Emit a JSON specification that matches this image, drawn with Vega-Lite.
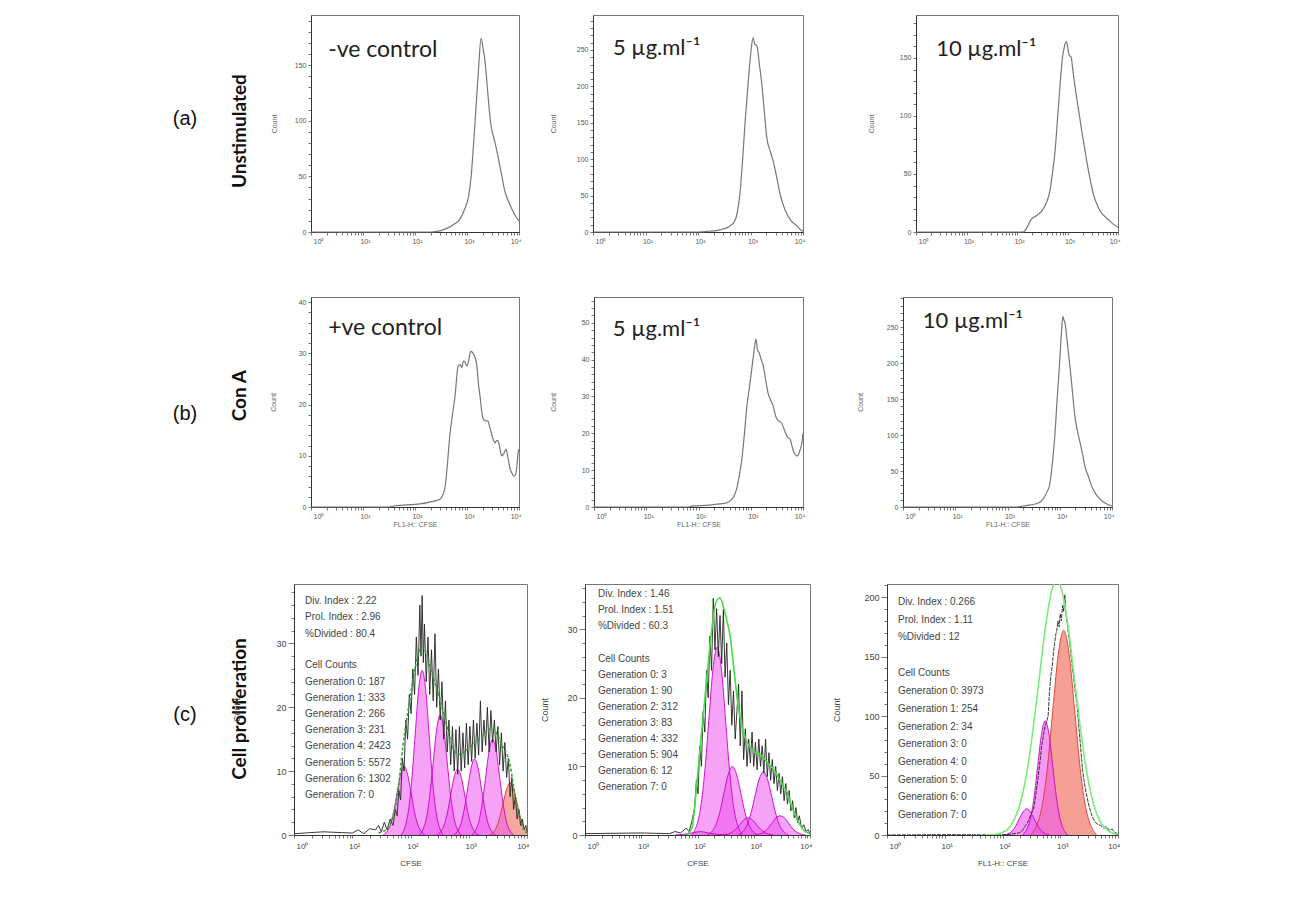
{
"$schema": "https://vega.github.io/schema/vega-lite/v6.json",
"background": "white",
"padding": {"left": 5, "top": 14, "right": 5, "bottom": 5},
"config": {
  "view": {"stroke": "#777", "strokeWidth": 1},
  "axis": {"domainColor": "#333", "tickColor": "#555", "labelColor": "#555", "titleColor": "#666", "labelFont": "Liberation Sans", "titleFont": "Liberation Sans", "titleFontWeight": "normal", "grid": false, "domainWidth": 1, "tickWidth": 0.8, "labelOverlap": false}
},
"datasets": {
  "a1": [{"x":0,"y":0},{"x":2.3,"y":0},{"x":2.48,"y":1},{"x":2.6,"y":3},{"x":2.75,"y":7},{"x":2.87,"y":12},{"x":2.95,"y":20},{"x":3.03,"y":32},{"x":3.08,"y":50},{"x":3.12,"y":75},{"x":3.17,"y":110},{"x":3.22,"y":145},{"x":3.27,"y":174},{"x":3.31,"y":165},{"x":3.35,"y":152},{"x":3.4,"y":125},{"x":3.45,"y":100},{"x":3.48,"y":91},{"x":3.53,"y":82},{"x":3.57,"y":74},{"x":3.62,"y":62},{"x":3.68,"y":48},{"x":3.72,"y":38},{"x":3.77,"y":31},{"x":3.83,"y":24},{"x":3.9,"y":17},{"x":3.95,"y":13},{"x":4,"y":10}],
  "a2": [{"x":0,"y":0},{"x":2.0,"y":0},{"x":2.2,"y":1},{"x":2.42,"y":3},{"x":2.6,"y":8},{"x":2.7,"y":15},{"x":2.75,"y":28},{"x":2.8,"y":53},{"x":2.85,"y":100},{"x":2.9,"y":154},{"x":2.95,"y":200},{"x":3.0,"y":242},{"x":3.05,"y":267},{"x":3.08,"y":258},{"x":3.12,"y":256},{"x":3.17,"y":230},{"x":3.22,"y":200},{"x":3.27,"y":160},{"x":3.31,"y":130},{"x":3.37,"y":112},{"x":3.43,"y":98},{"x":3.5,"y":75},{"x":3.56,"y":53},{"x":3.62,"y":38},{"x":3.69,"y":25},{"x":3.78,"y":15},{"x":3.89,"y":8},{"x":3.95,"y":3},{"x":4,"y":1}],
  "a3": [{"x":0,"y":0},{"x":2.12,"y":0},{"x":2.2,"y":4},{"x":2.26,"y":9.5},{"x":2.38,"y":14},{"x":2.49,"y":18},{"x":2.58,"y":25},{"x":2.65,"y":35},{"x":2.7,"y":50},{"x":2.75,"y":68},{"x":2.8,"y":96},{"x":2.85,"y":125},{"x":2.9,"y":150},{"x":2.94,"y":160},{"x":2.98,"y":164},{"x":3.02,"y":155},{"x":3.04,"y":152},{"x":3.07,"y":151},{"x":3.11,"y":138},{"x":3.15,"y":125},{"x":3.22,"y":105},{"x":3.29,"y":85},{"x":3.34,"y":72},{"x":3.39,"y":59},{"x":3.45,"y":45},{"x":3.51,"y":33},{"x":3.6,"y":22},{"x":3.68,"y":16},{"x":3.75,"y":13},{"x":3.8,"y":11},{"x":3.9,"y":7},{"x":4,"y":4}],
  "b1": [{"x":0,"y":0},{"x":1.5,"y":0},{"x":1.6,"y":0.2},{"x":2.1,"y":0.6},{"x":2.3,"y":1},{"x":2.48,"y":1.5},{"x":2.54,"y":2.5},{"x":2.58,"y":4},{"x":2.62,"y":8},{"x":2.67,"y":14},{"x":2.72,"y":18},{"x":2.77,"y":21.7},{"x":2.83,"y":27.5},{"x":2.87,"y":27.8},{"x":2.9,"y":27.2},{"x":2.93,"y":28.5},{"x":2.96,"y":28.3},{"x":3.0,"y":27.5},{"x":3.04,"y":29},{"x":3.07,"y":30.4},{"x":3.12,"y":30},{"x":3.16,"y":29},{"x":3.19,"y":27.5},{"x":3.22,"y":24},{"x":3.25,"y":21.7},{"x":3.28,"y":19},{"x":3.31,"y":17.2},{"x":3.36,"y":16.8},{"x":3.4,"y":16.8},{"x":3.44,"y":15.5},{"x":3.47,"y":14.4},{"x":3.51,"y":13},{"x":3.54,"y":12.5},{"x":3.57,"y":13},{"x":3.6,"y":12.9},{"x":3.64,"y":11},{"x":3.67,"y":10},{"x":3.71,"y":10.5},{"x":3.75,"y":11.3},{"x":3.79,"y":9.5},{"x":3.83,"y":7.4},{"x":3.87,"y":6.5},{"x":3.9,"y":6},{"x":3.94,"y":6.5},{"x":3.96,"y":8},{"x":3.98,"y":10.5},{"x":4,"y":11.3}],
  "b2": [{"x":0,"y":0},{"x":1.8,"y":0},{"x":1.9,"y":0.3},{"x":2.2,"y":0.5},{"x":2.35,"y":0.8},{"x":2.5,"y":1.0},{"x":2.6,"y":1.6},{"x":2.68,"y":3},{"x":2.73,"y":4.9},{"x":2.78,"y":8.5},{"x":2.83,"y":13},{"x":2.88,"y":20},{"x":2.92,"y":26.6},{"x":2.97,"y":32},{"x":3.02,"y":37.5},{"x":3.06,"y":42},{"x":3.1,"y":45.6},{"x":3.13,"y":42.5},{"x":3.16,"y":41.9},{"x":3.2,"y":40},{"x":3.24,"y":38.3},{"x":3.28,"y":35},{"x":3.33,"y":31},{"x":3.38,"y":29},{"x":3.43,"y":27.4},{"x":3.47,"y":25},{"x":3.5,"y":23.9},{"x":3.55,"y":23.2},{"x":3.59,"y":22.8},{"x":3.64,"y":21},{"x":3.69,"y":19.3},{"x":3.72,"y":18.7},{"x":3.75,"y":18.5},{"x":3.79,"y":16.5},{"x":3.83,"y":14.7},{"x":3.87,"y":13.9},{"x":3.89,"y":13.9},{"x":3.92,"y":14.5},{"x":3.95,"y":15.8},{"x":3.98,"y":17.5},{"x":4,"y":20}],
  "b3": [{"x":0,"y":0},{"x":2.18,"y":0},{"x":2.3,"y":1.4},{"x":2.45,"y":3},{"x":2.6,"y":6},{"x":2.68,"y":11},{"x":2.75,"y":20},{"x":2.81,"y":32},{"x":2.86,"y":62},{"x":2.91,"y":103},{"x":2.95,"y":150},{"x":2.99,"y":192},{"x":3.03,"y":240},{"x":3.06,"y":265},{"x":3.08,"y":260},{"x":3.1,"y":256},{"x":3.15,"y":225},{"x":3.2,"y":192},{"x":3.25,"y":155},{"x":3.29,"y":126},{"x":3.34,"y":105},{"x":3.39,"y":89},{"x":3.44,"y":72},{"x":3.48,"y":57},{"x":3.55,"y":42},{"x":3.61,"y":29},{"x":3.69,"y":18},{"x":3.77,"y":11},{"x":3.88,"y":5},{"x":4,"y":1.4}],
  "c1": [
    {"s":"hist","x":0,"y":0.2},{"s":"hist","x":0.5,"y":0.5},{"s":"hist","x":1.0,"y":0.3},{"s":"hist","x":1.1,"y":0.8},{"s":"hist","x":1.2,"y":0.2},{"s":"hist","x":1.3,"y":1.0},{"s":"hist","x":1.4,"y":0.8},{"s":"hist","x":1.45,"y":1.5},{"s":"hist","x":1.5,"y":0.5},{"s":"hist","x":1.55,"y":2.0},{"s":"hist","x":1.6,"y":0.8},{"s":"hist","x":1.65,"y":2.5},{"s":"hist","x":1.7,"y":1.5},{"s":"hist","x":1.74,"y":4.0},{"s":"hist","x":1.77,"y":3.0},{"s":"hist","x":1.8,"y":7.0},{"s":"hist","x":1.83,"y":5.5},{"s":"hist","x":1.86,"y":12},{"s":"hist","x":1.89,"y":10},{"s":"hist","x":1.92,"y":18},{"s":"hist","x":1.95,"y":15},{"s":"hist","x":1.98,"y":22},{"s":"hist","x":2.01,"y":19},{"s":"hist","x":2.04,"y":26},{"s":"hist","x":2.07,"y":22},{"s":"hist","x":2.1,"y":31},{"s":"hist","x":2.13,"y":25},{"s":"hist","x":2.16,"y":36},{"s":"hist","x":2.18,"y":28},{"s":"hist","x":2.2,"y":37.5},{"s":"hist","x":2.22,"y":27},{"s":"hist","x":2.24,"y":33},{"s":"hist","x":2.27,"y":24},{"s":"hist","x":2.3,"y":31},{"s":"hist","x":2.33,"y":22},{"s":"hist","x":2.36,"y":29},{"s":"hist","x":2.39,"y":21},{"s":"hist","x":2.42,"y":31.5},{"s":"hist","x":2.45,"y":20},{"s":"hist","x":2.48,"y":26},{"s":"hist","x":2.51,"y":18},{"s":"hist","x":2.54,"y":24},{"s":"hist","x":2.57,"y":15},{"s":"hist","x":2.6,"y":21},{"s":"hist","x":2.63,"y":13},{"s":"hist","x":2.66,"y":18},{"s":"hist","x":2.69,"y":11},{"s":"hist","x":2.72,"y":17},{"s":"hist","x":2.75,"y":10},{"s":"hist","x":2.78,"y":16.5},{"s":"hist","x":2.81,"y":9.5},{"s":"hist","x":2.84,"y":17},{"s":"hist","x":2.87,"y":10},{"s":"hist","x":2.9,"y":16},{"s":"hist","x":2.93,"y":10.5},{"s":"hist","x":2.96,"y":17.5},{"s":"hist","x":2.99,"y":11},{"s":"hist","x":3.02,"y":17},{"s":"hist","x":3.05,"y":11.5},{"s":"hist","x":3.08,"y":18},{"s":"hist","x":3.11,"y":12},{"s":"hist","x":3.14,"y":17.5},{"s":"hist","x":3.17,"y":12.5},{"s":"hist","x":3.2,"y":21},{"s":"hist","x":3.23,"y":13},{"s":"hist","x":3.26,"y":18},{"s":"hist","x":3.29,"y":14},{"s":"hist","x":3.32,"y":20},{"s":"hist","x":3.35,"y":13},{"s":"hist","x":3.38,"y":19.5},{"s":"hist","x":3.41,"y":14.5},{"s":"hist","x":3.44,"y":18},{"s":"hist","x":3.47,"y":13},{"s":"hist","x":3.5,"y":17},{"s":"hist","x":3.53,"y":11},{"s":"hist","x":3.56,"y":16},{"s":"hist","x":3.59,"y":10},{"s":"hist","x":3.62,"y":14.5},{"s":"hist","x":3.65,"y":9},{"s":"hist","x":3.68,"y":12},{"s":"hist","x":3.71,"y":6},{"s":"hist","x":3.74,"y":9},{"s":"hist","x":3.77,"y":4},{"s":"hist","x":3.8,"y":6},{"s":"hist","x":3.83,"y":2.5},{"s":"hist","x":3.86,"y":4},{"s":"hist","x":3.89,"y":1.5},{"s":"hist","x":3.92,"y":2.5},{"s":"hist","x":3.95,"y":0.8},{"s":"hist","x":3.98,"y":1.5},{"s":"hist","x":4,"y":0.5},
    {"s":"fit","x":1.45,"y":0.3},{"s":"fit","x":1.6,"y":1},{"s":"fit","x":1.7,"y":3},{"s":"fit","x":1.78,"y":6.5},{"s":"fit","x":1.87,"y":13.9},{"s":"fit","x":1.95,"y":19},{"s":"fit","x":2.02,"y":23},{"s":"fit","x":2.1,"y":27},{"s":"fit","x":2.17,"y":29.2},{"s":"fit","x":2.21,"y":29.4},{"s":"fit","x":2.27,"y":28.5},{"s":"fit","x":2.35,"y":26},{"s":"fit","x":2.43,"y":23.5},{"s":"fit","x":2.51,"y":21},{"s":"fit","x":2.6,"y":18},{"s":"fit","x":2.7,"y":14.5},{"s":"fit","x":2.78,"y":12.8},{"s":"fit","x":2.85,"y":12.6},{"s":"fit","x":2.95,"y":13.2},{"s":"fit","x":3.08,"y":14.3},{"s":"fit","x":3.2,"y":15.2},{"s":"fit","x":3.3,"y":16.2},{"s":"fit","x":3.42,"y":16.7},{"s":"fit","x":3.5,"y":15.5},{"s":"fit","x":3.6,"y":13.5},{"s":"fit","x":3.67,"y":12.3},{"s":"fit","x":3.72,"y":10.5},{"s":"fit","x":3.76,"y":8.1},{"s":"fit","x":3.82,"y":5},{"s":"fit","x":3.88,"y":2.5},{"s":"fit","x":3.95,"y":0.8},{"s":"fit","x":4,"y":0.3},
    {"s":"g0","x":3.35,"y":0},{"s":"g0","x":3.47,"y":1.1},{"s":"g0","x":3.53,"y":2.7},{"s":"g0","x":3.59,"y":5.0},{"s":"g0","x":3.65,"y":7.2},{"s":"g0","x":3.71,"y":8.2},{"s":"g0","x":3.77,"y":7.2},{"s":"g0","x":3.83,"y":5.0},{"s":"g0","x":3.89,"y":2.7},{"s":"g0","x":3.95,"y":1.1},{"s":"g0","x":4,"y":0.4},
    {"s":"g1","x":3.05,"y":0},{"s":"g1","x":3.17,"y":2.0},{"s":"g1","x":3.23,"y":4.9},{"s":"g1","x":3.29,"y":9.1},{"s":"g1","x":3.35,"y":13.2},{"s":"g1","x":3.41,"y":15},{"s":"g1","x":3.47,"y":13.2},{"s":"g1","x":3.53,"y":9.1},{"s":"g1","x":3.59,"y":4.9},{"s":"g1","x":3.65,"y":2.0},{"s":"g1","x":3.77,"y":0},
    {"s":"g2","x":2.74,"y":0},{"s":"g2","x":2.86,"y":1.6},{"s":"g2","x":2.92,"y":3.9},{"s":"g2","x":2.98,"y":7.2},{"s":"g2","x":3.04,"y":10.5},{"s":"g2","x":3.1,"y":11.9},{"s":"g2","x":3.16,"y":10.5},{"s":"g2","x":3.22,"y":7.2},{"s":"g2","x":3.28,"y":3.9},{"s":"g2","x":3.34,"y":1.6},{"s":"g2","x":3.46,"y":0},
    {"s":"g3","x":2.45,"y":0},{"s":"g3","x":2.57,"y":1.4},{"s":"g3","x":2.63,"y":3.3},{"s":"g3","x":2.69,"y":6.3},{"s":"g3","x":2.75,"y":9.1},{"s":"g3","x":2.81,"y":10.3},{"s":"g3","x":2.87,"y":9.1},{"s":"g3","x":2.93,"y":6.3},{"s":"g3","x":2.99,"y":3.3},{"s":"g3","x":3.05,"y":1.4},{"s":"g3","x":3.17,"y":0},
    {"s":"g4","x":2.15,"y":0},{"s":"g4","x":2.27,"y":2.5},{"s":"g4","x":2.33,"y":6.1},{"s":"g4","x":2.39,"y":11.4},{"s":"g4","x":2.45,"y":16.6},{"s":"g4","x":2.51,"y":18.8},{"s":"g4","x":2.57,"y":16.6},{"s":"g4","x":2.63,"y":11.4},{"s":"g4","x":2.69,"y":6.1},{"s":"g4","x":2.75,"y":2.5},{"s":"g4","x":2.87,"y":0},
    {"s":"g5","x":1.84,"y":0},{"s":"g5","x":1.96,"y":3.5},{"s":"g5","x":2.02,"y":8.4},{"s":"g5","x":2.08,"y":15.7},{"s":"g5","x":2.14,"y":22.8},{"s":"g5","x":2.2,"y":25.8},{"s":"g5","x":2.26,"y":22.8},{"s":"g5","x":2.32,"y":15.7},{"s":"g5","x":2.38,"y":8.4},{"s":"g5","x":2.44,"y":3.5},{"s":"g5","x":2.56,"y":0},
    {"s":"g6","x":1.53,"y":0},{"s":"g6","x":1.65,"y":1.5},{"s":"g6","x":1.71,"y":3.5},{"s":"g6","x":1.77,"y":6.6},{"s":"g6","x":1.83,"y":9.5},{"s":"g6","x":1.89,"y":10.8},{"s":"g6","x":1.95,"y":9.5},{"s":"g6","x":2.01,"y":6.6},{"s":"g6","x":2.07,"y":3.5},{"s":"g6","x":2.13,"y":1.5},{"s":"g6","x":2.25,"y":0}
  ],
  "c2": [
    {"s":"hist","x":0,"y":0.2},{"s":"hist","x":1.0,"y":0.3},{"s":"hist","x":1.5,"y":0.2},{"s":"hist","x":1.6,"y":0.5},{"s":"hist","x":1.7,"y":0.3},{"s":"hist","x":1.8,"y":1},{"s":"hist","x":1.85,"y":0.5},{"s":"hist","x":1.9,"y":2},{"s":"hist","x":1.95,"y":4},{"s":"hist","x":1.98,"y":8},{"s":"hist","x":2.01,"y":6},{"s":"hist","x":2.04,"y":13},{"s":"hist","x":2.07,"y":10},{"s":"hist","x":2.1,"y":18},{"s":"hist","x":2.13,"y":15},{"s":"hist","x":2.16,"y":24},{"s":"hist","x":2.19,"y":20},{"s":"hist","x":2.22,"y":29},{"s":"hist","x":2.25,"y":24},{"s":"hist","x":2.28,"y":34.5},{"s":"hist","x":2.31,"y":27},{"s":"hist","x":2.34,"y":33},{"s":"hist","x":2.37,"y":26},{"s":"hist","x":2.4,"y":32},{"s":"hist","x":2.43,"y":25},{"s":"hist","x":2.46,"y":33},{"s":"hist","x":2.49,"y":23},{"s":"hist","x":2.52,"y":28},{"s":"hist","x":2.55,"y":19},{"s":"hist","x":2.58,"y":24},{"s":"hist","x":2.61,"y":16},{"s":"hist","x":2.64,"y":21},{"s":"hist","x":2.67,"y":14},{"s":"hist","x":2.7,"y":18},{"s":"hist","x":2.73,"y":22},{"s":"hist","x":2.76,"y":13},{"s":"hist","x":2.79,"y":21},{"s":"hist","x":2.82,"y":11},{"s":"hist","x":2.85,"y":15.5},{"s":"hist","x":2.88,"y":10},{"s":"hist","x":2.91,"y":14},{"s":"hist","x":2.94,"y":10.5},{"s":"hist","x":2.97,"y":15},{"s":"hist","x":3.0,"y":10},{"s":"hist","x":3.03,"y":13.5},{"s":"hist","x":3.06,"y":9.5},{"s":"hist","x":3.09,"y":14},{"s":"hist","x":3.12,"y":10},{"s":"hist","x":3.15,"y":13},{"s":"hist","x":3.18,"y":9},{"s":"hist","x":3.21,"y":14},{"s":"hist","x":3.24,"y":8.5},{"s":"hist","x":3.27,"y":12},{"s":"hist","x":3.3,"y":8},{"s":"hist","x":3.33,"y":11},{"s":"hist","x":3.36,"y":7.5},{"s":"hist","x":3.39,"y":10},{"s":"hist","x":3.42,"y":6.5},{"s":"hist","x":3.45,"y":9},{"s":"hist","x":3.48,"y":6},{"s":"hist","x":3.51,"y":8.5},{"s":"hist","x":3.54,"y":5},{"s":"hist","x":3.57,"y":7.5},{"s":"hist","x":3.6,"y":4.5},{"s":"hist","x":3.63,"y":6.5},{"s":"hist","x":3.66,"y":3.5},{"s":"hist","x":3.69,"y":5},{"s":"hist","x":3.72,"y":2.5},{"s":"hist","x":3.75,"y":4},{"s":"hist","x":3.78,"y":1.8},{"s":"hist","x":3.81,"y":2.8},{"s":"hist","x":3.85,"y":1},{"s":"hist","x":3.89,"y":1.5},{"s":"hist","x":3.93,"y":0.5},{"s":"hist","x":3.97,"y":0.8},{"s":"hist","x":4,"y":0.2},
    {"s":"fit","x":1.8,"y":0},{"s":"fit","x":1.9,"y":1},{"s":"fit","x":1.99,"y":7.7},{"s":"fit","x":2.05,"y":13},{"s":"fit","x":2.12,"y":19},{"s":"fit","x":2.19,"y":25},{"s":"fit","x":2.26,"y":30.5},{"s":"fit","x":2.33,"y":34},{"s":"fit","x":2.4,"y":34.6},{"s":"fit","x":2.47,"y":33},{"s":"fit","x":2.53,"y":31},{"s":"fit","x":2.58,"y":29},{"s":"fit","x":2.65,"y":24},{"s":"fit","x":2.72,"y":19},{"s":"fit","x":2.8,"y":15.5},{"s":"fit","x":2.88,"y":13.6},{"s":"fit","x":2.95,"y":12.6},{"s":"fit","x":3.03,"y":12},{"s":"fit","x":3.11,"y":11.8},{"s":"fit","x":3.2,"y":11},{"s":"fit","x":3.27,"y":10.3},{"s":"fit","x":3.35,"y":9.6},{"s":"fit","x":3.45,"y":8.2},{"s":"fit","x":3.52,"y":7.2},{"s":"fit","x":3.59,"y":6.3},{"s":"fit","x":3.66,"y":4.5},{"s":"fit","x":3.74,"y":2.8},{"s":"fit","x":3.82,"y":1.5},{"s":"fit","x":3.9,"y":0.6},{"s":"fit","x":4,"y":0.2},
    {"s":"g1","x":3.02,"y":0},{"s":"g1","x":3.17,"y":0.38},{"s":"g1","x":3.245,"y":0.9},{"s":"g1","x":3.32,"y":1.7},{"s":"g1","x":3.395,"y":2.5},{"s":"g1","x":3.47,"y":2.8},{"s":"g1","x":3.545,"y":2.5},{"s":"g1","x":3.62,"y":1.7},{"s":"g1","x":3.695,"y":0.9},{"s":"g1","x":3.77,"y":0.38},{"s":"g1","x":3.92,"y":0},
    {"s":"g2","x":2.72,"y":0},{"s":"g2","x":2.87,"y":1.24},{"s":"g2","x":2.945,"y":3.0},{"s":"g2","x":3.02,"y":5.6},{"s":"g2","x":3.095,"y":8.1},{"s":"g2","x":3.17,"y":9.2},{"s":"g2","x":3.245,"y":8.1},{"s":"g2","x":3.32,"y":5.6},{"s":"g2","x":3.395,"y":3.0},{"s":"g2","x":3.47,"y":1.24},{"s":"g2","x":3.62,"y":0},
    {"s":"g3","x":2.45,"y":0},{"s":"g3","x":2.6,"y":0.34},{"s":"g3","x":2.675,"y":0.8},{"s":"g3","x":2.75,"y":1.5},{"s":"g3","x":2.825,"y":2.2},{"s":"g3","x":2.9,"y":2.5},{"s":"g3","x":2.975,"y":2.2},{"s":"g3","x":3.05,"y":1.5},{"s":"g3","x":3.125,"y":0.8},{"s":"g3","x":3.2,"y":0.34},{"s":"g3","x":3.35,"y":0},
    {"s":"g4","x":2.17,"y":0},{"s":"g4","x":2.32,"y":1.35},{"s":"g4","x":2.395,"y":3.25},{"s":"g4","x":2.47,"y":6.1},{"s":"g4","x":2.545,"y":8.8},{"s":"g4","x":2.62,"y":10},{"s":"g4","x":2.695,"y":8.8},{"s":"g4","x":2.77,"y":6.1},{"s":"g4","x":2.845,"y":3.25},{"s":"g4","x":2.92,"y":1.35},{"s":"g4","x":3.07,"y":0},
    {"s":"g5","x":1.9,"y":0},{"s":"g5","x":2.05,"y":3.7},{"s":"g5","x":2.125,"y":8.9},{"s":"g5","x":2.2,"y":16.6},{"s":"g5","x":2.275,"y":24.2},{"s":"g5","x":2.35,"y":27.4},{"s":"g5","x":2.425,"y":24.2},{"s":"g5","x":2.5,"y":16.6},{"s":"g5","x":2.575,"y":8.9},{"s":"g5","x":2.65,"y":3.7},{"s":"g5","x":2.8,"y":0},
    {"s":"g6","x":1.6,"y":0},{"s":"g6","x":1.75,"y":0.1},{"s":"g6","x":1.9,"y":0.3},{"s":"g6","x":2.05,"y":0.5},{"s":"g6","x":2.2,"y":0.3},{"s":"g6","x":2.35,"y":0.1},{"s":"g6","x":2.5,"y":0}
  ],
  "c3": [
    {"s":"hist","x":0,"y":0},{"s":"hist","x":1.0,"y":0.3},{"s":"hist","x":1.5,"y":0.2},{"s":"hist","x":1.9,"y":0},{"s":"hist","x":2.1,"y":0.5},{"s":"hist","x":2.2,"y":1},{"s":"hist","x":2.3,"y":2},{"s":"hist","x":2.35,"y":4},{"s":"hist","x":2.4,"y":8},{"s":"hist","x":2.45,"y":12},{"s":"hist","x":2.5,"y":18},{"s":"hist","x":2.54,"y":22},{"s":"hist","x":2.58,"y":35},{"s":"hist","x":2.62,"y":50},{"s":"hist","x":2.65,"y":62},{"s":"hist","x":2.68,"y":75},{"s":"hist","x":2.71,"y":84},{"s":"hist","x":2.74,"y":92},{"s":"hist","x":2.77,"y":96},{"s":"hist","x":2.79,"y":100},{"s":"hist","x":2.81,"y":118},{"s":"hist","x":2.84,"y":135},{"s":"hist","x":2.86,"y":141},{"s":"hist","x":2.88,"y":152},{"s":"hist","x":2.9,"y":160},{"s":"hist","x":2.92,"y":168},{"s":"hist","x":2.94,"y":172},{"s":"hist","x":2.96,"y":180},{"s":"hist","x":2.98,"y":175},{"s":"hist","x":3.0,"y":186},{"s":"hist","x":3.02,"y":180},{"s":"hist","x":3.04,"y":193},{"s":"hist","x":3.06,"y":188},{"s":"hist","x":3.08,"y":202},{"s":"hist","x":3.1,"y":185},{"s":"hist","x":3.12,"y":178},{"s":"hist","x":3.14,"y":170},{"s":"hist","x":3.17,"y":159},{"s":"hist","x":3.2,"y":145},{"s":"hist","x":3.23,"y":133},{"s":"hist","x":3.26,"y":120},{"s":"hist","x":3.29,"y":110},{"s":"hist","x":3.32,"y":92},{"s":"hist","x":3.35,"y":75},{"s":"hist","x":3.38,"y":58},{"s":"hist","x":3.41,"y":46},{"s":"hist","x":3.45,"y":35},{"s":"hist","x":3.5,"y":24},{"s":"hist","x":3.55,"y":16},{"s":"hist","x":3.6,"y":11},{"s":"hist","x":3.65,"y":9},{"s":"hist","x":3.7,"y":8},{"s":"hist","x":3.75,"y":6},{"s":"hist","x":3.8,"y":7},{"s":"hist","x":3.85,"y":4},{"s":"hist","x":3.9,"y":5},{"s":"hist","x":3.95,"y":2},{"s":"hist","x":4,"y":1},
    {"s":"fit","x":1.7,"y":0},{"s":"fit","x":1.85,"y":0.4},{"s":"fit","x":2.0,"y":2.1},{"s":"fit","x":2.15,"y":8.3},{"s":"fit","x":2.3,"y":25.4},{"s":"fit","x":2.45,"y":61},{"s":"fit","x":2.6,"y":117},{"s":"fit","x":2.75,"y":177},{"s":"fit","x":2.85,"y":205},{"s":"fit","x":2.94,"y":214},{"s":"fit","x":3.03,"y":205},{"s":"fit","x":3.13,"y":177},{"s":"fit","x":3.28,"y":117},{"s":"fit","x":3.43,"y":61},{"s":"fit","x":3.58,"y":25.4},{"s":"fit","x":3.73,"y":8.3},{"s":"fit","x":3.88,"y":2.1},{"s":"fit","x":4,"y":0.4},
    {"s":"g0","x":2.49,"y":0},{"s":"g0","x":2.68,"y":23.2},{"s":"g0","x":2.775,"y":55.9},{"s":"g0","x":2.87,"y":104.4},{"s":"g0","x":2.965,"y":151.7},{"s":"g0","x":3.06,"y":172},{"s":"g0","x":3.155,"y":151.7},{"s":"g0","x":3.25,"y":104.4},{"s":"g0","x":3.345,"y":55.9},{"s":"g0","x":3.44,"y":23.2},{"s":"g0","x":3.63,"y":0},
    {"s":"g1","x":2.35,"y":0},{"s":"g1","x":2.48,"y":13},{"s":"g1","x":2.545,"y":31.2},{"s":"g1","x":2.61,"y":58.3},{"s":"g1","x":2.675,"y":84.7},{"s":"g1","x":2.74,"y":96},{"s":"g1","x":2.805,"y":84.7},{"s":"g1","x":2.87,"y":58.3},{"s":"g1","x":2.935,"y":31.2},{"s":"g1","x":3.0,"y":13},{"s":"g1","x":3.13,"y":0},
    {"s":"g2","x":2.03,"y":0},{"s":"g2","x":2.16,"y":3},{"s":"g2","x":2.225,"y":7.2},{"s":"g2","x":2.29,"y":13.4},{"s":"g2","x":2.355,"y":19.4},{"s":"g2","x":2.42,"y":22},{"s":"g2","x":2.485,"y":19.4},{"s":"g2","x":2.55,"y":13.4},{"s":"g2","x":2.615,"y":7.2},{"s":"g2","x":2.68,"y":3},{"s":"g2","x":2.81,"y":0}
  ]
},
"spacing": 48,
"vconcat": [
 {"bounds": "flush", "spacing": 0, "hconcat": [
  {"width": 306, "height": 217, "view": {"stroke": null}, "data": {"values": [{}]},
   "layer": [
    {"mark": {"type": "text", "text": "(a)", "font": "Liberation Sans", "fontSize": 20, "color": "#111"},
     "encoding": {"x": {"datum": "letter", "type": "nominal", "scale": {"type": "point", "domain": ["letter", "title"], "range": [180, 235], "padding": 0}, "axis": null},
                  "y": {"datum": 0.52, "type": "quantitative", "scale": {"domain": [0, 1]}, "axis": null}}},
    {"mark": {"type": "text", "text": "Unstimulated", "font": "Lato", "fontWeight": "bold", "fontSize": 19, "angle": 270, "color": "#111"},
     "encoding": {"x": {"datum": "title", "type": "nominal", "axis": null},
                  "y": {"datum": 0.465, "type": "quantitative", "axis": null}}}
   ]},
  {"width": 208, "height": 217, "data": {"name": "a1"}, "resolve": {"axis": {"x": "independent", "y": "independent"}},
   "layer": [
    {"mark": {"type": "line", "color": "#777", "strokeWidth": 1.2, "interpolate": "monotone"},
     "encoding": {
       "x": {"field": "x", "type": "quantitative", "scale": {"domain": [0, 4], "nice": false}, "axis": {"orient": "bottom", "title": null, "labelOverlap": false, "values": [0,0.301,0.477,0.602,0.699,0.778,0.845,0.903,0.954,1,1.301,1.477,1.602,1.699,1.778,1.845,1.903,1.954,2,2.301,2.477,2.602,2.699,2.778,2.845,2.903,2.954,3,3.301,3.477,3.602,3.699,3.778,3.845,3.903,3.954,4], "labelExpr": "datum.value % 1 === 0 ? ['10⁰','10¹','10²','10³','10⁴'][datum.value] : ''", "tickSize": 3, "labelPadding": 2, "labelFontSize": 7, "labelOffset": 2}},
       "y": {"field": "y", "type": "quantitative", "scale": {"domain": [0, 195], "nice": false}, "axis": {"orient": "left", "title": "Count", "labelOverlap": false, "values": [0,10,20,30,40,50,60,70,80,90,100,110,120,130,140,150,160,170,180,190], "labelExpr": "datum.value % 50 === 0 ? datum.label : ''", "tickSize": 3, "labelPadding": 2, "labelFontSize": 7, "titleFontSize": 7, "titlePadding": 17, "minExtent": 17, "maxExtent": 17}}
     }},
    {"data": {"values": [{}]}, "mark": {"type": "text", "text": "-ve control", "font": "Lato", "fontSize": 23, "align": "left", "baseline": "middle", "color": "#222"},
     "encoding": {"x": {"datum": 0.33, "type": "quantitative", "axis": null}, "y": {"datum": 163.5, "type": "quantitative", "axis": null}}}
   ]},
  {"width": 74, "height": 20, "view": {"stroke": null}, "data": {"values": [{}]}, "mark": {"type": "text", "text": ""}, "encoding": {}},
  {"width": 210, "height": 217, "data": {"name": "a2"}, "resolve": {"axis": {"x": "independent", "y": "independent"}},
   "layer": [
    {"mark": {"type": "line", "color": "#777", "strokeWidth": 1.2, "interpolate": "monotone"},
     "encoding": {
       "x": {"field": "x", "type": "quantitative", "scale": {"domain": [0, 4], "nice": false}, "axis": {"orient": "bottom", "title": null, "labelOverlap": false, "values": [0,0.301,0.477,0.602,0.699,0.778,0.845,0.903,0.954,1,1.301,1.477,1.602,1.699,1.778,1.845,1.903,1.954,2,2.301,2.477,2.602,2.699,2.778,2.845,2.903,2.954,3,3.301,3.477,3.602,3.699,3.778,3.845,3.903,3.954,4], "labelExpr": "datum.value % 1 === 0 ? ['10⁰','10¹','10²','10³','10⁴'][datum.value] : ''", "tickSize": 3, "labelPadding": 2, "labelFontSize": 7, "labelOffset": 2}},
       "y": {"field": "y", "type": "quantitative", "scale": {"domain": [0, 298], "nice": false}, "axis": {"orient": "left", "title": "Count", "labelOverlap": false, "values": [0,10,20,30,40,50,60,70,80,90,100,110,120,130,140,150,160,170,180,190,200,210,220,230,240,250,260,270,280,290], "labelExpr": "datum.value % 50 === 0 ? datum.label : ''", "tickSize": 3, "labelPadding": 2, "labelFontSize": 7, "titleFontSize": 7, "titlePadding": 20, "minExtent": 17, "maxExtent": 17}}
     }},
    {"data": {"values": [{}]}, "mark": {"type": "text", "text": "5 µg.ml⁻¹", "font": "Lato", "fontSize": 22, "align": "left", "baseline": "middle", "color": "#222"},
     "encoding": {"x": {"datum": 0.38, "type": "quantitative", "axis": null}, "y": {"datum": 253, "type": "quantitative", "axis": null}}}
   ]},
  {"width": 113, "height": 20, "view": {"stroke": null}, "data": {"values": [{}]}, "mark": {"type": "text", "text": ""}, "encoding": {}},
  {"width": 202, "height": 217, "data": {"name": "a3"}, "resolve": {"axis": {"x": "independent", "y": "independent"}},
   "layer": [
    {"mark": {"type": "line", "color": "#777", "strokeWidth": 1.2, "interpolate": "monotone"},
     "encoding": {
       "x": {"field": "x", "type": "quantitative", "scale": {"domain": [0, 4], "nice": false}, "axis": {"orient": "bottom", "title": null, "labelOverlap": false, "values": [0,0.301,0.477,0.602,0.699,0.778,0.845,0.903,0.954,1,1.301,1.477,1.602,1.699,1.778,1.845,1.903,1.954,2,2.301,2.477,2.602,2.699,2.778,2.845,2.903,2.954,3,3.301,3.477,3.602,3.699,3.778,3.845,3.903,3.954,4], "labelExpr": "datum.value % 1 === 0 ? ['10⁰','10¹','10²','10³','10⁴'][datum.value] : ''", "tickSize": 3, "labelPadding": 2, "labelFontSize": 7, "labelOffset": 2}},
       "y": {"field": "y", "type": "quantitative", "scale": {"domain": [0, 187], "nice": false}, "axis": {"orient": "left", "title": "Count", "labelOverlap": false, "values": [0,10,20,30,40,50,60,70,80,90,100,110,120,130,140,150,160,170,180], "labelExpr": "datum.value % 50 === 0 ? datum.label : ''", "tickSize": 3, "labelPadding": 2, "labelFontSize": 7, "titleFontSize": 7, "titlePadding": 25, "minExtent": 17, "maxExtent": 17}}
     }},
    {"data": {"values": [{}]}, "mark": {"type": "text", "text": "10 µg.ml⁻¹", "font": "Lato", "fontSize": 22, "align": "left", "baseline": "middle", "color": "#222"},
     "encoding": {"x": {"datum": 0.4, "type": "quantitative", "axis": null}, "y": {"datum": 158, "type": "quantitative", "axis": null}}}
   ]}
 ]},
 {"spacing": 52, "vconcat": [
 {"bounds": "flush", "spacing": 0, "hconcat": [
  {"width": 306, "height": 210, "view": {"stroke": null}, "data": {"values": [{}]},
   "layer": [
    {"mark": {"type": "text", "text": "(b)", "font": "Liberation Sans", "fontSize": 20, "color": "#111"},
     "encoding": {"x": {"datum": "letter", "type": "nominal", "scale": {"type": "point", "domain": ["letter", "title"], "range": [180, 235], "padding": 0}, "axis": null},
                  "y": {"datum": 0.443, "type": "quantitative", "scale": {"domain": [0, 1]}, "axis": null}}},
    {"mark": {"type": "text", "text": "Con A", "font": "Lato", "fontWeight": "bold", "fontSize": 19, "angle": 270, "color": "#111"},
     "encoding": {"x": {"datum": "title", "type": "nominal", "axis": null},
                  "y": {"datum": 0.53, "type": "quantitative", "axis": null}}}
   ]},
  {"width": 208, "height": 210, "data": {"name": "b1"}, "resolve": {"axis": {"x": "independent", "y": "independent"}},
   "layer": [
    {"mark": {"type": "line", "color": "#777", "strokeWidth": 1.2, "interpolate": "monotone"},
     "encoding": {
       "x": {"field": "x", "type": "quantitative", "scale": {"domain": [0, 4], "nice": false}, "axis": {"orient": "bottom", "title": "FL1-H:: CFSE", "titleFontSize": 7, "titlePadding": 1, "labelOverlap": false, "values": [0,0.301,0.477,0.602,0.699,0.778,0.845,0.903,0.954,1,1.301,1.477,1.602,1.699,1.778,1.845,1.903,1.954,2,2.301,2.477,2.602,2.699,2.778,2.845,2.903,2.954,3,3.301,3.477,3.602,3.699,3.778,3.845,3.903,3.954,4], "labelExpr": "datum.value % 1 === 0 ? ['10⁰','10¹','10²','10³','10⁴'][datum.value] : ''", "tickSize": 3, "labelPadding": 2, "labelFontSize": 7, "labelOffset": 2}},
       "y": {"field": "y", "type": "quantitative", "scale": {"domain": [0, 41], "nice": false}, "axis": {"orient": "left", "title": "Count", "labelOverlap": false, "values": [0,2,4,6,8,10,12,14,16,18,20,22,24,26,28,30,32,34,36,38,40], "labelExpr": "datum.value % 10 === 0 ? datum.label : ''", "tickSize": 3, "labelPadding": 2, "labelFontSize": 7, "titleFontSize": 7, "titlePadding": 18, "minExtent": 17, "maxExtent": 17}}
     }},
    {"data": {"values": [{}]}, "mark": {"type": "text", "text": "+ve control", "font": "Lato", "fontSize": 23, "align": "left", "baseline": "middle", "color": "#222"},
     "encoding": {"x": {"datum": 0.33, "type": "quantitative", "axis": null}, "y": {"datum": 34.9, "type": "quantitative", "axis": null}}}
   ]},
  {"width": 75, "height": 20, "view": {"stroke": null}, "data": {"values": [{}]}, "mark": {"type": "text", "text": ""}, "encoding": {}},
  {"width": 209, "height": 210, "data": {"name": "b2"}, "resolve": {"axis": {"x": "independent", "y": "independent"}},
   "layer": [
    {"mark": {"type": "line", "color": "#777", "strokeWidth": 1.2, "interpolate": "monotone"},
     "encoding": {
       "x": {"field": "x", "type": "quantitative", "scale": {"domain": [0, 4], "nice": false}, "axis": {"orient": "bottom", "title": "FL1-H:: CFSE", "titleFontSize": 7, "titlePadding": 1, "labelOverlap": false, "values": [0,0.301,0.477,0.602,0.699,0.778,0.845,0.903,0.954,1,1.301,1.477,1.602,1.699,1.778,1.845,1.903,1.954,2,2.301,2.477,2.602,2.699,2.778,2.845,2.903,2.954,3,3.301,3.477,3.602,3.699,3.778,3.845,3.903,3.954,4], "labelExpr": "datum.value % 1 === 0 ? ['10⁰','10¹','10²','10³','10⁴'][datum.value] : ''", "tickSize": 3, "labelPadding": 2, "labelFontSize": 7, "labelOffset": 2}},
       "y": {"field": "y", "type": "quantitative", "scale": {"domain": [0, 57], "nice": false}, "axis": {"orient": "left", "title": "Count", "labelOverlap": false, "values": [0,2,4,6,8,10,12,14,16,18,20,22,24,26,28,30,32,34,36,38,40,42,44,46,48,50,52,54,56], "labelExpr": "datum.value % 10 === 0 ? datum.label : ''", "tickSize": 3, "labelPadding": 2, "labelFontSize": 7, "titleFontSize": 7, "titlePadding": 21, "minExtent": 17, "maxExtent": 17}}
     }},
    {"data": {"values": [{}]}, "mark": {"type": "text", "text": "5 µg.ml⁻¹", "font": "Lato", "fontSize": 22, "align": "left", "baseline": "middle", "color": "#222"},
     "encoding": {"x": {"datum": 0.36, "type": "quantitative", "axis": null}, "y": {"datum": 48.4, "type": "quantitative", "axis": null}}}
   ]},
  {"width": 100, "height": 20, "view": {"stroke": null}, "data": {"values": [{}]}, "mark": {"type": "text", "text": ""}, "encoding": {}},
  {"width": 209, "height": 210, "data": {"name": "b3"}, "resolve": {"axis": {"x": "independent", "y": "independent"}},
   "layer": [
    {"mark": {"type": "line", "color": "#777", "strokeWidth": 1.2, "interpolate": "monotone"},
     "encoding": {
       "x": {"field": "x", "type": "quantitative", "scale": {"domain": [0, 4], "nice": false}, "axis": {"orient": "bottom", "title": "FL1-H:: CFSE", "titleFontSize": 7, "titlePadding": 1, "labelOverlap": false, "values": [0,0.301,0.477,0.602,0.699,0.778,0.845,0.903,0.954,1,1.301,1.477,1.602,1.699,1.778,1.845,1.903,1.954,2,2.301,2.477,2.602,2.699,2.778,2.845,2.903,2.954,3,3.301,3.477,3.602,3.699,3.778,3.845,3.903,3.954,4], "labelExpr": "datum.value % 1 === 0 ? ['10⁰','10¹','10²','10³','10⁴'][datum.value] : ''", "tickSize": 3, "labelPadding": 2, "labelFontSize": 7, "labelOffset": 2}},
       "y": {"field": "y", "type": "quantitative", "scale": {"domain": [0, 292], "nice": false}, "axis": {"orient": "left", "title": "Count", "labelOverlap": false, "values": [0,10,20,30,40,50,60,70,80,90,100,110,120,130,140,150,160,170,180,190,200,210,220,230,240,250,260,270,280,290], "labelExpr": "datum.value % 50 === 0 ? datum.label : ''", "tickSize": 3, "labelPadding": 2, "labelFontSize": 7, "titleFontSize": 7, "titlePadding": 23, "minExtent": 17, "maxExtent": 17}}
     }},
    {"data": {"values": [{}]}, "mark": {"type": "text", "text": "10 µg.ml⁻¹", "font": "Lato", "fontSize": 22, "align": "left", "baseline": "middle", "color": "#222"},
     "encoding": {"x": {"datum": 0.38, "type": "quantitative", "axis": null}, "y": {"datum": 258, "type": "quantitative", "axis": null}}}
   ]}
 ]},
 {"bounds": "flush", "spacing": 0, "hconcat": [
  {"width": 289, "height": 251, "view": {"stroke": null}, "data": {"values": [{}]},
   "layer": [
    {"mark": {"type": "text", "text": "(c)", "font": "Liberation Sans", "fontSize": 20, "color": "#111"},
     "encoding": {"x": {"datum": "letter", "type": "nominal", "scale": {"type": "point", "domain": ["letter", "title"], "range": [180, 235], "padding": 0}, "axis": null},
                  "y": {"datum": 0.478, "type": "quantitative", "scale": {"domain": [0, 1]}, "axis": null}}},
    {"mark": {"type": "text", "text": "Cell proliferation", "font": "Lato", "fontWeight": "bold", "fontSize": 19, "angle": 270, "color": "#111"},
     "encoding": {"x": {"datum": "title", "type": "nominal", "axis": null},
                  "y": {"datum": 0.502, "type": "quantitative", "axis": null}}}
   ]},
  {"width": 233, "height": 251, "data": {"name": "c1"}, "resolve": {"axis": {"x": "independent", "y": "independent"}},
   "layer": [
    {"data": {"values": [{}]}, "mark": {"type": "text", "text": ["Div. Index : 2.22", "Prol. Index : 2.96", "%Divided : 80.4"], "font": "Liberation Sans", "fontSize": 10, "lineHeight": 16.2, "align": "left", "baseline": "top", "color": "#444"},
     "encoding": {"x": {"datum": 0.19, "type": "quantitative", "axis": null}, "y": {"datum": 37.4, "type": "quantitative", "axis": null}}},
    {"data": {"values": [{}]}, "mark": {"type": "text", "text": ["Cell Counts", "Generation 0: 187", "Generation 1: 333", "Generation 2: 266", "Generation 3: 231", "Generation 4: 2423", "Generation 5: 5572", "Generation 6: 1302", "Generation 7: 0"], "font": "Liberation Sans", "fontSize": 10, "lineHeight": 16.2, "align": "left", "baseline": "top", "color": "#444"},
     "encoding": {"x": {"datum": 0.19, "type": "quantitative", "axis": null}, "y": {"datum": 27.35, "type": "quantitative", "axis": null}}},
    {"transform": [{"filter": {"field": "s", "oneOf": ["g0","g1","g2","g3","g4","g5","g6","g7"]}}],
     "mark": {"type": "area", "interpolate": "monotone", "opacity": 0.55},
     "encoding": {
       "x": {"field": "x", "type": "quantitative", "scale": {"domain": [0, 4], "nice": false}, "axis": {"orient": "bottom", "title": "CFSE", "titleFontSize": 8, "titlePadding": 8.5, "titleColor": "#444", "labelOverlap": false, "values": [0,0.301,0.477,0.602,0.699,0.778,0.845,0.903,0.954,1,1.301,1.477,1.602,1.699,1.778,1.845,1.903,1.954,2,2.301,2.477,2.602,2.699,2.778,2.845,2.903,2.954,3,3.301,3.477,3.602,3.699,3.778,3.845,3.903,3.954,4], "labelExpr": "datum.value % 1 === 0 ? ['10⁰','10¹','10²','10³','10⁴'][datum.value] : ''", "tickSize": 3, "labelPadding": 4.5, "labelFontSize": 8, "labelOffset": 2, "labelColor": "#444"}},
       "y": {"field": "y", "type": "quantitative", "stack": null, "scale": {"domain": [0, 39.3], "nice": false}, "axis": {"orient": "left", "title": "Count", "labelOverlap": false, "values": [0,2,4,6,8,10,12,14,16,18,20,22,24,26,28,30,32,34,36,38], "labelExpr": "datum.value % 10 === 0 ? datum.label : ''", "tickSize": {"condition": {"test": "datum.value % 10 === 0", "value": 6}, "value": 3}, "labelPadding": 2, "labelFontSize": 9, "labelColor": "#444", "titleFontSize": 9, "titleColor": "#444", "titlePadding": 33, "minExtent": 20, "maxExtent": 20}},
       "color": {"field": "s", "type": "nominal", "scale": {"domain": ["g0","g1","g2","g3","g4","g5","g6","g7"], "range": ["#f0604e","#ee55ee","#ee55ee","#ee55ee","#ee55ee","#ee55ee","#ee55ee","#ee55ee"]}, "legend": null}}},
    {"transform": [{"filter": {"field": "s", "oneOf": ["g0","g1","g2","g3","g4","g5","g6","g7"]}}],
     "mark": {"type": "line", "interpolate": "monotone", "strokeWidth": 0.9},
     "encoding": {"x": {"field": "x", "type": "quantitative", "axis": null}, "y": {"field": "y", "type": "quantitative", "axis": null},
       "stroke": {"field": "s", "type": "nominal", "scale": {"domain": ["g0","g1","g2","g3","g4","g5","g6","g7"], "range": ["#d83a2a","#c800c8","#c800c8","#c800c8","#c800c8","#c800c8","#c800c8","#c800c8"]}, "legend": null}}},
    {"transform": [{"filter": "datum.s === 'hist'"}], "mark": {"type": "line", "color": "#222", "strokeWidth": 0.9},
     "encoding": {"x": {"field": "x", "type": "quantitative", "axis": null}, "y": {"field": "y", "type": "quantitative", "axis": null}}},
    {"transform": [{"filter": "datum.s === 'fit'"}], "mark": {"type": "line", "color": "#2aa82a", "strokeWidth": 1.6, "strokeDash": [3, 2], "interpolate": "monotone", "clip": true},
     "encoding": {"x": {"field": "x", "type": "quantitative", "axis": null}, "y": {"field": "y", "type": "quantitative", "axis": null}}}
   ]},
  {"width": 58, "height": 20, "view": {"stroke": null}, "data": {"values": [{}]}, "mark": {"type": "text", "text": ""}, "encoding": {}},
  {"width": 225, "height": 251, "data": {"name": "c2"}, "resolve": {"axis": {"x": "independent", "y": "independent"}},
   "layer": [
    {"data": {"values": [{}]}, "mark": {"type": "text", "text": ["Div. Index : 1.46", "Prol. Index : 1.51", "%Divided : 60.3"], "font": "Liberation Sans", "fontSize": 10, "lineHeight": 16, "align": "left", "baseline": "top", "color": "#444"},
     "encoding": {"x": {"datum": 0.23, "type": "quantitative", "axis": null}, "y": {"datum": 35.8, "type": "quantitative", "axis": null}}},
    {"data": {"values": [{}]}, "mark": {"type": "text", "text": ["Cell Counts", "Generation 0: 3", "Generation 1: 90", "Generation 2: 312", "Generation 3: 83", "Generation 4: 332", "Generation 5: 904", "Generation 6: 12", "Generation 7: 0"], "font": "Liberation Sans", "fontSize": 10, "lineHeight": 16, "align": "left", "baseline": "top", "color": "#444"},
     "encoding": {"x": {"datum": 0.23, "type": "quantitative", "axis": null}, "y": {"datum": 26.46, "type": "quantitative", "axis": null}}},
    {"transform": [{"filter": {"field": "s", "oneOf": ["g0","g1","g2","g3","g4","g5","g6","g7"]}}],
     "mark": {"type": "area", "interpolate": "monotone", "opacity": 0.55},
     "encoding": {
       "x": {"field": "x", "type": "quantitative", "scale": {"domain": [0, 4], "nice": false}, "axis": {"orient": "bottom", "title": "CFSE", "titleFontSize": 8, "titlePadding": 8.5, "titleColor": "#444", "labelOverlap": false, "values": [0,0.301,0.477,0.602,0.699,0.778,0.845,0.903,0.954,1,1.301,1.477,1.602,1.699,1.778,1.845,1.903,1.954,2,2.301,2.477,2.602,2.699,2.778,2.845,2.903,2.954,3,3.301,3.477,3.602,3.699,3.778,3.845,3.903,3.954,4], "labelExpr": "datum.value % 1 === 0 ? ['10⁰','10¹','10²','10³','10⁴'][datum.value] : ''", "tickSize": 3, "labelPadding": 4.5, "labelFontSize": 8, "labelOffset": 2, "labelColor": "#444"}},
       "y": {"field": "y", "type": "quantitative", "stack": null, "scale": {"domain": [0, 36.6], "nice": false}, "axis": {"orient": "left", "title": "Count", "labelOverlap": false, "values": [0,2,4,6,8,10,12,14,16,18,20,22,24,26,28,30,32,34,36], "labelExpr": "datum.value % 10 === 0 ? datum.label : ''", "tickSize": {"condition": {"test": "datum.value % 10 === 0", "value": 6}, "value": 3}, "labelPadding": 2, "labelFontSize": 9, "labelColor": "#444", "titleFontSize": 9, "titleColor": "#444", "titlePadding": 16, "minExtent": 20, "maxExtent": 20}},
       "color": {"field": "s", "type": "nominal", "scale": {"domain": ["g0","g1","g2","g3","g4","g5","g6","g7"], "range": ["#f0604e","#ee55ee","#ee55ee","#ee55ee","#ee55ee","#ee55ee","#ee55ee","#ee55ee"]}, "legend": null}}},
    {"transform": [{"filter": {"field": "s", "oneOf": ["g0","g1","g2","g3","g4","g5","g6","g7"]}}],
     "mark": {"type": "line", "interpolate": "monotone", "strokeWidth": 0.9},
     "encoding": {"x": {"field": "x", "type": "quantitative", "axis": null}, "y": {"field": "y", "type": "quantitative", "axis": null},
       "stroke": {"field": "s", "type": "nominal", "scale": {"domain": ["g0","g1","g2","g3","g4","g5","g6","g7"], "range": ["#d83a2a","#c800c8","#c800c8","#c800c8","#c800c8","#c800c8","#c800c8","#c800c8"]}, "legend": null}}},
    {"transform": [{"filter": "datum.s === 'hist'"}], "mark": {"type": "line", "color": "#222", "strokeWidth": 0.9},
     "encoding": {"x": {"field": "x", "type": "quantitative", "axis": null}, "y": {"field": "y", "type": "quantitative", "axis": null}}},
    {"transform": [{"filter": "datum.s === 'fit'"}], "mark": {"type": "line", "color": "#44e044", "strokeWidth": 1.6, "interpolate": "monotone", "clip": true},
     "encoding": {"x": {"field": "x", "type": "quantitative", "axis": null}, "y": {"field": "y", "type": "quantitative", "axis": null}}}
   ]},
  {"width": 77, "height": 20, "view": {"stroke": null}, "data": {"values": [{}]}, "mark": {"type": "text", "text": ""}, "encoding": {}},
  {"width": 231, "height": 251, "data": {"name": "c3"}, "resolve": {"axis": {"x": "independent", "y": "independent"}},
   "layer": [
    {"data": {"values": [{}]}, "mark": {"type": "text", "text": ["Div. Index : 0.266", "Prol. Index : 1.11", "%Divided : 12"], "font": "Liberation Sans", "fontSize": 10, "lineHeight": 17.7, "align": "left", "baseline": "top", "color": "#444"},
     "encoding": {"x": {"datum": 0.19, "type": "quantitative", "axis": null}, "y": {"datum": 200, "type": "quantitative", "axis": null}}},
    {"data": {"values": [{}]}, "mark": {"type": "text", "text": ["Cell Counts", "Generation 0: 3973", "Generation 1: 254", "Generation 2: 34", "Generation 3: 0", "Generation 4: 0", "Generation 5: 0", "Generation 6: 0", "Generation 7: 0"], "font": "Liberation Sans", "fontSize": 10, "lineHeight": 17.7, "align": "left", "baseline": "top", "color": "#444"},
     "encoding": {"x": {"datum": 0.19, "type": "quantitative", "axis": null}, "y": {"datum": 140, "type": "quantitative", "axis": null}}},
    {"transform": [{"filter": {"field": "s", "oneOf": ["g0","g1","g2","g3","g4","g5","g6","g7"]}}],
     "mark": {"type": "area", "interpolate": "monotone", "opacity": 0.6},
     "encoding": {
       "x": {"field": "x", "type": "quantitative", "scale": {"domain": [0, 4], "nice": false}, "axis": {"orient": "bottom", "title": "FL1-H:: CFSE", "titleFontSize": 8, "titlePadding": 8.5, "titleColor": "#444", "labelOverlap": false, "values": [0,0.301,0.477,0.602,0.699,0.778,0.845,0.903,0.954,1,1.301,1.477,1.602,1.699,1.778,1.845,1.903,1.954,2,2.301,2.477,2.602,2.699,2.778,2.845,2.903,2.954,3,3.301,3.477,3.602,3.699,3.778,3.845,3.903,3.954,4], "labelExpr": "datum.value % 1 === 0 ? ['10⁰','10¹','10²','10³','10⁴'][datum.value] : ''", "tickSize": 3, "labelPadding": 4.5, "labelFontSize": 8, "labelOffset": 2, "labelColor": "#444"}},
       "y": {"field": "y", "type": "quantitative", "stack": null, "scale": {"domain": [0, 211], "nice": false}, "axis": {"orient": "left", "title": "Count", "labelOverlap": false, "values": [0,10,20,30,40,50,60,70,80,90,100,110,120,130,140,150,160,170,180,190,200,210], "labelExpr": "datum.value % 50 === 0 ? datum.label : ''", "tickSize": {"condition": {"test": "datum.value % 50 === 0", "value": 6}, "value": 3}, "labelPadding": 2, "labelFontSize": 9, "labelColor": "#444", "titleFontSize": 9, "titleColor": "#444", "titlePadding": 26, "minExtent": 20, "maxExtent": 20}},
       "color": {"field": "s", "type": "nominal", "scale": {"domain": ["g0","g1","g2","g3","g4","g5","g6","g7"], "range": ["#f0604e","#ee55ee","#ee55ee","#ee55ee","#ee55ee","#ee55ee","#ee55ee","#ee55ee"]}, "legend": null}}},
    {"transform": [{"filter": {"field": "s", "oneOf": ["g0","g1","g2","g3","g4","g5","g6","g7"]}}],
     "mark": {"type": "line", "interpolate": "monotone", "strokeWidth": 0.9},
     "encoding": {"x": {"field": "x", "type": "quantitative", "axis": null}, "y": {"field": "y", "type": "quantitative", "axis": null},
       "stroke": {"field": "s", "type": "nominal", "scale": {"domain": ["g0","g1","g2","g3","g4","g5","g6","g7"], "range": ["#d83a2a","#c800c8","#c800c8","#c800c8","#c800c8","#c800c8","#c800c8","#c800c8"]}, "legend": null}}},
    {"transform": [{"filter": "datum.s === 'hist'"}], "mark": {"type": "line", "color": "#222", "strokeWidth": 0.9, "strokeDash": [4, 1]},
     "encoding": {"x": {"field": "x", "type": "quantitative", "axis": null}, "y": {"field": "y", "type": "quantitative", "axis": null}}},
    {"transform": [{"filter": "datum.s === 'fit'"}], "mark": {"type": "line", "color": "#7aec7a", "strokeWidth": 1.6, "interpolate": "monotone", "clip": true},
     "encoding": {"x": {"field": "x", "type": "quantitative", "axis": null}, "y": {"field": "y", "type": "quantitative", "axis": null}}}
   ]}
 ]}
 ]}
]
}
